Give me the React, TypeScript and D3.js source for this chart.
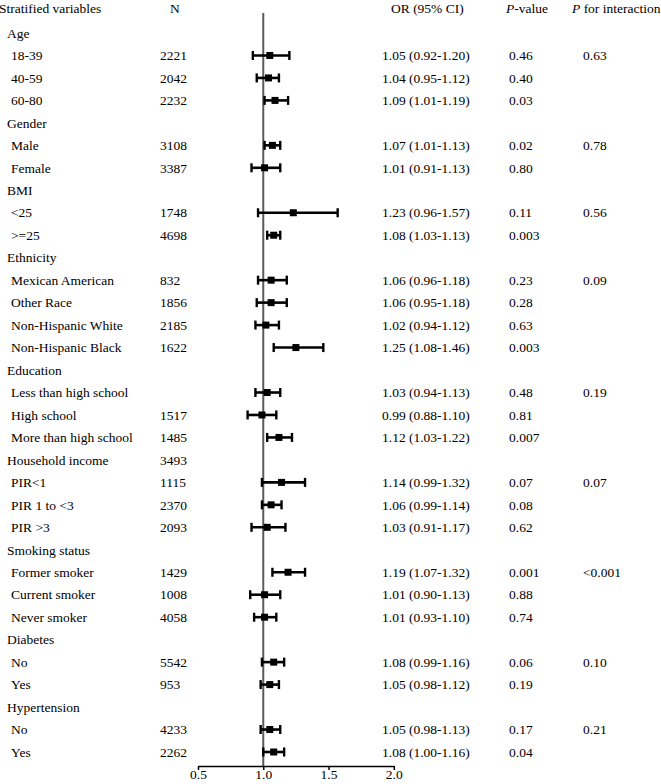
import React, { useEffect, useRef } from "react";
import * as d3 from "d3";

// ---- data ----
const rowLabels: string[] = [
  "Age", "18-39", "40-59", "60-80",
  "Gender", "Male", "Female",
  "BMI", "<25", ">=25",
  "Ethnicity", "Mexican American", "Other Race", "Non-Hispanic White", "Non-Hispanic Black",
  "Education", "Less than high school", "High school", "More than high school",
  "Household income", "PIR<1", "PIR 1 to <3", "PIR >3",
  "Smoking status", "Former smoker", "Current smoker", "Never smoker",
  "Diabetes", "No", "Yes",
  "Hypertension", "No", "Yes",
];
const isGroupRow: boolean[] = [
  true, false, false, false,
  true, false, false,
  true, false, false,
  true, false, false, false, false,
  true, false, false, false,
  true, false, false, false,
  true, false, false, false,
  true, false, false,
  true, false, false,
];
const nValues: string[] = [
  "", "2221", "2042", "2232",
  "", "3108", "3387",
  "", "1748", "4698",
  "", "832", "1856", "2185", "1622",
  "", "", "1517", "1485",
  "3493", "1115", "2370", "2093",
  "", "1429", "1008", "4058",
  "", "5542", "953",
  "", "4233", "2262",
];
const orValues: (number | null)[] = [
  null, 1.05, 1.04, 1.09,
  null, 1.07, 1.01,
  null, 1.23, 1.08,
  null, 1.06, 1.06, 1.02, 1.25,
  null, 1.03, 0.99, 1.12,
  null, 1.14, 1.06, 1.03,
  null, 1.19, 1.01, 1.01,
  null, 1.08, 1.05,
  null, 1.05, 1.08,
];
const lowerValues: (number | null)[] = [
  null, 0.92, 0.95, 1.01,
  null, 1.01, 0.91,
  null, 0.96, 1.03,
  null, 0.96, 0.95, 0.94, 1.08,
  null, 0.94, 0.88, 1.03,
  null, 0.99, 0.99, 0.91,
  null, 1.07, 0.90, 0.93,
  null, 0.99, 0.98,
  null, 0.98, 1.00,
];
const upperValues: (number | null)[] = [
  null, 1.20, 1.12, 1.19,
  null, 1.13, 1.13,
  null, 1.57, 1.13,
  null, 1.18, 1.18, 1.12, 1.46,
  null, 1.13, 1.10, 1.22,
  null, 1.32, 1.14, 1.17,
  null, 1.32, 1.13, 1.10,
  null, 1.16, 1.12,
  null, 1.13, 1.16,
];
const pValues: string[] = [
  "", "0.46", "0.40", "0.03",
  "", "0.02", "0.80",
  "", "0.11", "0.003",
  "", "0.23", "0.28", "0.63", "0.003",
  "", "0.48", "0.81", "0.007",
  "", "0.07", "0.08", "0.62",
  "", "0.001", "0.88", "0.74",
  "", "0.06", "0.19",
  "", "0.17", "0.04",
];
const pInteraction: string[] = [
  "", "0.63", "", "",
  "", "0.78", "",
  "", "0.56", "",
  "", "0.09", "", "", "",
  "", "0.19", "", "",
  "", "0.07", "", "",
  "", "<0.001", "", "",
  "", "0.10", "",
  "", "0.21", "",
];
const axisTicks: number[] = [0.5, 1.0, 1.5, 2.0];

const W = 661;
const H = 784;
const FONT = "'Liberation Serif', 'Times New Roman', serif";
const FS = 13.5;

export default function App() {
  const axisRef = useRef<SVGGElement>(null);

  const x = d3.scaleLinear().domain([0.5, 2.0]).range([198, 393.8]);
  const y = d3.scaleLinear().domain([0, rowLabels.length - 1]).range([33, 752]);
  const axisY = 766;

  useEffect(() => {
    if (!axisRef.current) return;
    const g = d3.select(axisRef.current);
    g.selectAll("*").remove();
    g.call(
      d3.axisBottom(x).tickValues(axisTicks).tickFormat(d3.format(".1f")).tickSize(4).tickSizeOuter(0) as any
    );
    g.select(".domain").attr("stroke", "#000").attr("stroke-width", 1.5);
    g.selectAll(".tick line").attr("stroke", "#000").attr("stroke-width", 1.5);
    g.selectAll(".tick text")
      .attr("font-family", FONT)
      .attr("font-size", FS)
      .attr("fill", "#000")
      .attr("y", 3)
      .attr("dy", "0.71em");
  }, []);

  const textProps = { fontFamily: FONT, fontSize: FS, fill: "#000" };

  return (
    <svg width={W} height={H} style={{ position: "absolute", left: 0, top: 0, background: "#fff" }}>
      {/* header */}
      <g {...textProps}>
        <text x={-1} y={8} dy="0.35em">Stratified variables</text>
        <text x={170} y={8} dy="0.35em">N</text>
        <text x={391} y={8} dy="0.35em">OR (95% CI)</text>
        <text x={506} y={8} dy="0.35em">
          <tspan fontStyle="italic">P</tspan>-value
        </text>
        <text x={572} y={8} dy="0.35em">
          <tspan fontStyle="italic">P</tspan> for interaction
        </text>
      </g>

      {/* reference line */}
      <line x1={x(1)} x2={x(1)} y1={13} y2={axisY} stroke="#5a5a5a" strokeWidth={2} />

      {/* rows */}
      {rowLabels.map((label, i) => {
        const yy = y(i);
        const o = orValues[i];
        const lo = lowerValues[i];
        const hi = upperValues[i];
        return (
          <g key={i}>
            <text {...textProps} x={isGroupRow[i] ? 7 : 11} y={yy} dy="0.35em">{label}</text>
            {nValues[i] && <text {...textProps} x={160} y={yy} dy="0.35em">{nValues[i]}</text>}
            {o !== null && lo !== null && hi !== null && (
              <g>
                <line x1={x(lo)} x2={x(hi)} y1={yy} y2={yy} stroke="#000" strokeWidth={2.6} />
                <line x1={x(lo)} x2={x(lo)} y1={yy - 4.5} y2={yy + 4.5} stroke="#000" strokeWidth={2.4} />
                <line x1={x(hi)} x2={x(hi)} y1={yy - 4.5} y2={yy + 4.5} stroke="#000" strokeWidth={2.4} />
                <rect x={x(o) - 3.5} y={yy - 3.5} width={7} height={7} fill="#000" />
                <text {...textProps} x={382} y={yy} dy="0.35em">
                  {`${o.toFixed(2)} (${lo.toFixed(2)}-${hi.toFixed(2)})`}
                </text>
              </g>
            )}
            {pValues[i] && <text {...textProps} x={509} y={yy} dy="0.35em">{pValues[i]}</text>}
            {pInteraction[i] && <text {...textProps} x={583} y={yy} dy="0.35em">{pInteraction[i]}</text>}
          </g>
        );
      })}

      <g ref={axisRef} transform={`translate(0,${axisY})`} />
    </svg>
  );
}
